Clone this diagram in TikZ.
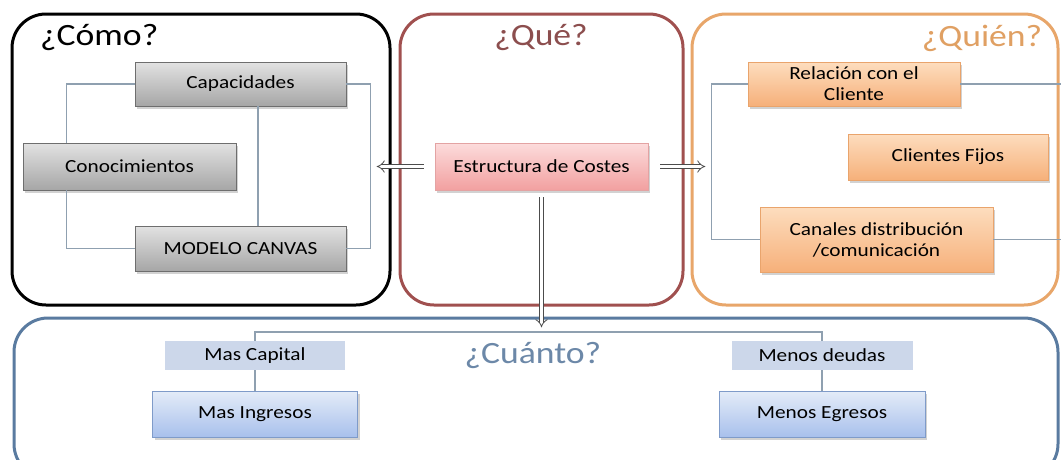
\documentclass[tikz,border=0pt]{standalone}
\usepackage{fontspec}
\setmainfont{Carlito}[FakeStretch=1.15]
\usetikzlibrary{arrows.meta,shadows,calc}
\definecolor{conncol}{HTML}{8FA0B0}
\definecolor{quecol}{HTML}{A0504F}
\definecolor{quetxt}{HTML}{8C4E4E}
\definecolor{quiencol}{HTML}{E8A66A}
\definecolor{quientxt}{HTML}{E0A063}
\definecolor{cuancol}{HTML}{5A7BA0}
\definecolor{cuantxt}{HTML}{6C88A8}
\definecolor{gtop}{HTML}{E2E2E2}
\definecolor{gmid}{HTML}{D2D2D2}
\definecolor{gbot}{HTML}{A6A6A6}
\definecolor{gbrd}{HTML}{6E6E6E}
\definecolor{ptop}{HTML}{FCDCDC}
\definecolor{pmid}{HTML}{F9C6C6}
\definecolor{pbot}{HTML}{F2A0A0}
\definecolor{pbrd}{HTML}{E3A3A3}
\definecolor{otop}{HTML}{FDDDBE}
\definecolor{omid}{HTML}{FBCBA0}
\definecolor{obot}{HTML}{F6B07A}
\definecolor{obrd}{HTML}{E9A46C}
\definecolor{btop}{HTML}{E4ECF8}
\definecolor{bmid}{HTML}{CFDCF2}
\definecolor{bbot}{HTML}{A8C0EC}
\definecolor{bbrd}{HTML}{7F9BC9}
\definecolor{bflat}{HTML}{CCD7EA}
\begin{document}
\begin{tikzpicture}[x=1pt,y=-1pt,
  container/.style={draw, line width=3pt, rounded corners=34pt, inner sep=0pt},
  title/.style={font=\fontsize{31}{34}\selectfont, inner sep=0pt},
  lbl/.style={font=\fontsize{18.5}{21}\selectfont, align=center, inner sep=0pt},
  shad/.style={drop shadow={shadow xshift=2pt, shadow yshift=-2.5pt, opacity=0.35, fill=gray}},
  graybox/.style={lbl, draw=gbrd, line width=0.9pt, top color=gtop, middle color=gmid, bottom color=gbot, shad},
  pinkbox/.style={lbl, draw=pbrd, line width=0.8pt, top color=ptop, middle color=pmid, bottom color=pbot, shad},
  orangebox/.style={lbl, draw=obrd, line width=0.8pt, top color=otop, middle color=omid, bottom color=obot, shad},
  flatblue/.style={lbl, fill=bflat},
  bluebox/.style={lbl, draw=bbrd, line width=0.9pt, top color=btop, middle color=bmid, bottom color=bbot, shad},
  conn/.style={draw=conncol, line width=1.3pt},
  hollow/.style={draw=gray!60!black, double=white, double distance=3.5pt, line width=0.8pt, -{Implies}}
]
\useasboundingbox (0,0) rectangle (1061,459);
\fill[white] (0,0) rectangle (1061,459);

% containers
\node[container, draw=black, minimum width=378pt, minimum height=291pt] (como) at (201,159.5) {};
\node[container, draw=quecol, minimum width=283pt, minimum height=291pt] (que) at (541.5,159.5) {};
\node[container, draw=quiencol, minimum width=366pt, minimum height=291pt] (quien) at (875,159.5) {};
\node[container, draw=cuancol, minimum width=1044pt, minimum height=160pt] (cuanto) at (536,398) {};

% titles
\node[title, anchor=west] (tcomo) at (40,38) {¿Cómo?};
\node[title, text=quetxt] (tque) at (541,38) {¿Qué?};
\node[title, text=quientxt] (tquien) at (982,38) {¿Quién?};
\node[title, text=cuantxt] (tcuanto) at (533,355) {¿Cuánto?};

% Como nodes
\node[graybox, minimum width=211pt, minimum height=44pt] (cap) at (240.5,84) {Capacidades};
\node[graybox, minimum width=213pt, minimum height=47pt] (con) at (129.5,166.5) {Conocimientos};
\node[graybox, minimum width=211pt, minimum height=45pt] (mc) at (240.5,248.5) {MODELO CANVAS};

% Que node
\node[pinkbox, minimum width=213pt, minimum height=47pt] (est) at (541.5,166.5) {Estructura de Costes};

% Quien nodes
\node[orangebox, minimum width=212pt, minimum height=44pt] (rel) at (854,84) {Relación con el\\Cliente};
\node[orangebox, minimum width=200pt, minimum height=46pt] (cf) at (948,157) {Clientes Fijos};
\node[orangebox, minimum width=233pt, minimum height=65pt] (can) at (876.5,239.5) {Canales distribución\\/comunicación};

% Cuanto nodes
\node[flatblue, minimum width=180pt, minimum height=29pt] (mcap) at (255,355.5) {Mas Capital};
\node[bluebox, minimum width=205pt, minimum height=46pt] (ming) at (255,414) {Mas Ingresos};
\node[flatblue, minimum width=181pt, minimum height=29pt] (mdeu) at (822,355.5) {Menos deudas};
\node[bluebox, minimum width=206pt, minimum height=46pt] (megr) at (822,414) {Menos Egresos};

% Como connectors
\draw[conn] (cap.west) -| ($(con.north west)+(44,0)$);
\draw[conn] ($(con.south west)+(44,0)$) |- (mc.west);
\draw[conn] ($(cap.south)+(17.5,0)$) -- ($(mc.north)+(17.5,0)$);
\draw[conn] (cap.east) -- ++(24,0) |- (mc.east);

% Quien connectors
\coordinate (qedge) at (1061,0);
\draw[conn] (rel.west) -- ++(-36,0) |- (can.west);
\draw[conn] ($(rel.south west)+(55,0)$) -- ($(rel.south west)+(55,0)$ |- can.north);
\draw[conn] (rel.east) -- (rel.east -| qedge);
\draw[conn] (can.east) -- (can.east -| qedge);

% Cuanto connectors
\coordinate (bar) at (0,332);
\draw[conn] (mcap.north) -- (mcap.north |- bar) -| (mdeu.north);
\draw[conn] (mcap.south) -- (ming.north);
\draw[conn] (mdeu.south) -- (megr.north);

% hollow arrows
\draw[hollow] ($(est.west)+(-11,0)$) -- ++(-47,0);
\draw[hollow] ($(est.east)+(12,0)$) -- ++(45,0);
\draw[hollow] ($(est.south)+(0,7)$) -- ++(0,130);
\end{tikzpicture}
\end{document}
